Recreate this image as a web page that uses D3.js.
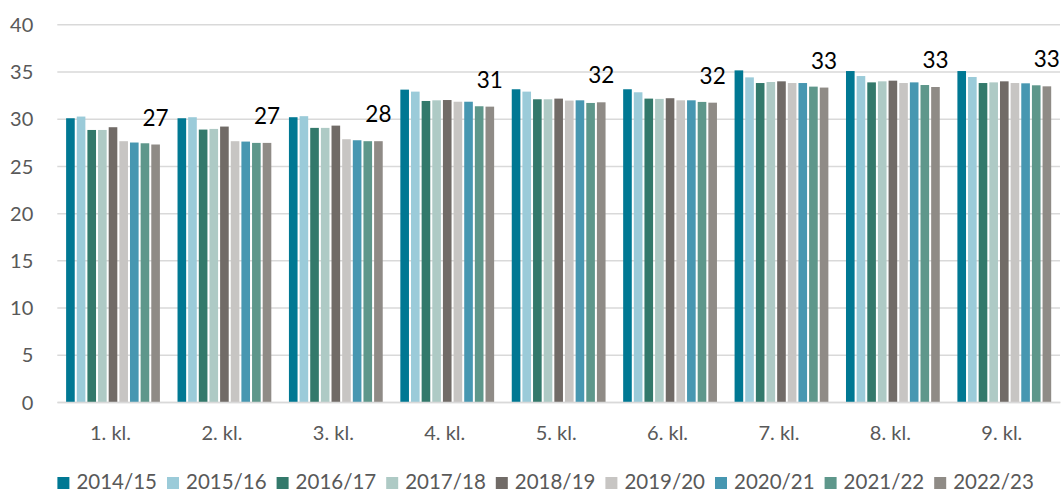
<!DOCTYPE html>
<html>
  <head>
    <meta http-equiv="Content-type" content="text/html; charset=utf-8"/>
    <title>Klassestørrelse</title>
    <script src="https://d3js.org/d3.v7.min.js"></script>
    <style>
      body{
        margin: 0;
        background: #fff;
      }
      svg text{
        font-family: Lato, "Open Sans", sans-serif;
      }
    </style>
  </head>
  <body>
    <svg width="1061" height="493"></svg>
    <script>
      // ### Data ###
      const grades = ["1. kl.", "2. kl.", "3. kl.", "4. kl.", "5. kl.", "6. kl.", "7. kl.", "8. kl.", "9. kl."];
      const years = ["2014/15", "2015/16", "2016/17", "2017/18", "2018/19", "2019/20", "2020/21", "2021/22", "2022/23"];
      const yearColors = ["#007893", "#9bcbd9", "#33796b", "#aecac5", "#716b67", "#c7c5c3", "#4797b1", "#5e978b", "#8f8b86"];

      // one array per school year, values per grade
      const v201415 = [30.05, 30.05, 30.16, 33.08, 33.12, 33.12, 35.12, 35.05, 35.05];
      const v201516 = [30.23, 30.16, 30.27, 32.87, 32.87, 32.80, 34.38, 34.52, 34.42];
      const v201617 = [28.81, 28.85, 29.03, 31.88, 32.06, 32.13, 33.78, 33.85, 33.78];
      const v201718 = [28.81, 28.92, 29.03, 31.95, 32.06, 32.10, 33.89, 33.96, 33.85];
      const v201819 = [29.10, 29.17, 29.27, 31.98, 32.13, 32.17, 33.96, 34.03, 33.96];
      const v201920 = [27.62, 27.62, 27.83, 31.80, 31.92, 31.95, 33.78, 33.78, 33.78];
      const v202021 = [27.48, 27.58, 27.72, 31.80, 31.95, 31.95, 33.78, 33.85, 33.75];
      const v202122 = [27.40, 27.44, 27.62, 31.32, 31.67, 31.78, 33.40, 33.57, 33.54];
      const v202223 = [27.27, 27.44, 27.62, 31.28, 31.74, 31.70, 33.30, 33.36, 33.43];
      const seriesValues = [v201415, v201516, v201617, v201718, v201819, v201920, v202021, v202122, v202223];

      const yTicks = [0, 5, 10, 15, 20, 25, 30, 35, 40];

      // ### Layout ###
      var svg = d3.select("svg");
      var plot = {left: 57.3, right: 1060, top: 24.3, bottom: 402};

      var x0 = d3.scaleBand()
          .domain(grades)
          .range([plot.left, plot.right])
          .paddingInner(0.14)
          .paddingOuter(0.07);

      var x1 = d3.scaleBand()
          .domain(years)
          .range([0, x0.bandwidth()])
          .paddingInner(0.19)
          .paddingOuter(0.095);

      var y = d3.scaleLinear()
          .domain([0, 40])
          .range([plot.bottom, plot.top]);

      var color = d3.scaleOrdinal().domain(years).range(yearColors);

      // gridlines + y labels
      var yAxis = svg.append("g")
          .attr("transform", "translate(" + plot.left + ",0)")
          .call(d3.axisLeft(y).tickValues(yTicks).tickSize(-(plot.right - plot.left)).tickPadding(24));
      yAxis.select(".domain").remove();
      yAxis.selectAll(".tick line")
          .attr("stroke", "#d9d9d9")
          .attr("stroke-width", 1.5);
      yAxis.selectAll(".tick text")
          .attr("fill", "#595959")
          .attr("font-size", "20px")
          .attr("x", 33.3 - plot.left)
          .attr("dy", "0.36em");
      yAxis.attr("font-family", null);

      // bars
      var table = [];
      years.forEach(function(yr, i){
        grades.forEach(function(gr, j){
          table.push({year: yr, grade: gr, value: seriesValues[i][j]});
        });
      });

      svg.append("g")
        .selectAll("rect")
        .data(table)
        .join("rect")
          .attr("x", function(d){ return x0(d.grade) + x1(d.year); })
          .attr("y", function(d){ return y(d.value); })
          .attr("width", x1.bandwidth())
          .attr("height", function(d){ return y(0) - y(d.value); })
          .attr("fill", function(d){ return color(d.year); });

      // data labels on last year
      var lastYear = years[years.length - 1];
      svg.append("g")
        .selectAll("text")
        .data(grades.map(function(gr, j){ return {grade: gr, value: v202223[j]}; }))
        .join("text")
          .attr("x", function(d){ return x0(d.grade) + x1(lastYear) + x1.bandwidth() / 2; })
          .attr("y", function(d){ return y(d.value) - 19; })
          .attr("text-anchor", "middle")
          .attr("font-size", "22.5px")
          .attr("fill", "#000")
          .text(function(d){ return Math.round(d.value); });

      // x axis
      var xAxis = svg.append("g")
          .attr("transform", "translate(0," + plot.bottom + ")")
          .call(d3.axisBottom(x0).tickSize(0).tickPadding(0));
      xAxis.select(".domain")
          .attr("stroke", "#d9d9d9")
          .attr("stroke-width", 1.5);
      xAxis.selectAll(".tick text")
          .attr("fill", "#595959")
          .attr("font-size", "20px")
          .attr("dx", "-2.5px")
          .attr("y", 38)
          .attr("dy", null);
      xAxis.attr("font-family", null);

      // legend
      var legend = svg.append("g")
        .selectAll("g")
        .data(years)
        .join("g")
          .attr("transform", function(d, i){ return "translate(" + (57.4 + i * 109.6) + ",0)"; });
      legend.append("rect")
          .attr("x", 0)
          .attr("y", 477)
          .attr("width", 12)
          .attr("height", 12)
          .attr("fill", function(d){ return color(d); });
      legend.append("text")
          .attr("x", 19)
          .attr("y", 488.5)
          .attr("font-size", "20.5px")
          .attr("fill", "#595959")
          .text(function(d){ return d; });
    </script>
  </body>
</html>
